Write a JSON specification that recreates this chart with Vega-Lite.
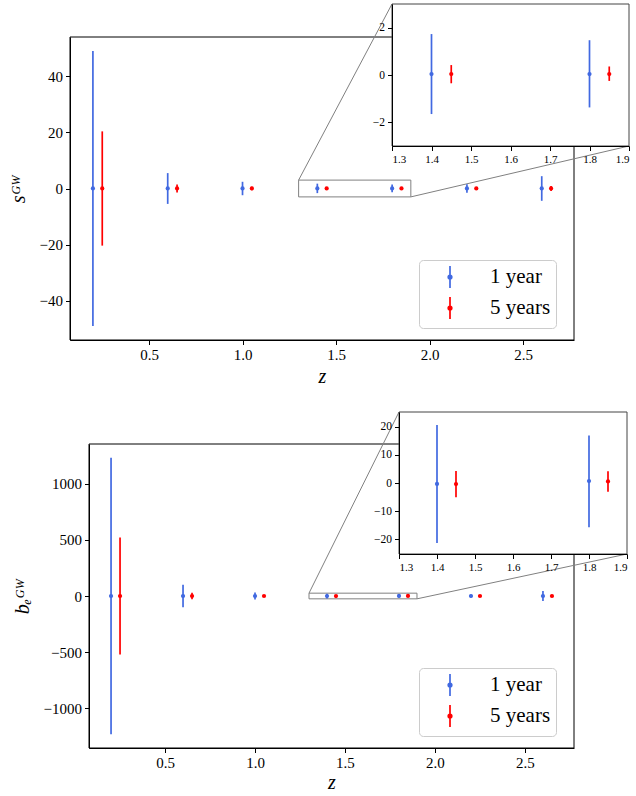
{
  "$schema": "https://vega.github.io/schema/vega-lite/v6.json",
  "width": 636,
  "height": 796,
  "autosize": {"type": "none"},
  "padding": 0,
  "background": "white",
  "datasets": {
    "s": [
      {"series": "1 year", "z": 0.2, "v": 0.04, "lo": -49.1, "hi": 49.1},
      {"series": "1 year", "z": 0.6, "v": 0.04, "lo": -5.5, "hi": 5.5},
      {"series": "1 year", "z": 1.0, "v": 0.04, "lo": -2.4, "hi": 2.4},
      {"series": "1 year", "z": 1.4, "v": 0.04, "lo": -1.65, "hi": 1.73},
      {"series": "1 year", "z": 1.8, "v": 0.04, "lo": -1.37, "hi": 1.47},
      {"series": "1 year", "z": 2.2, "v": 0.04, "lo": -1.55, "hi": 1.55},
      {"series": "1 year", "z": 2.6, "v": 0.04, "lo": -4.4, "hi": 4.4},
      {"series": "5 years", "z": 0.25, "v": 0.04, "lo": -20.4, "hi": 20.4},
      {"series": "5 years", "z": 0.65, "v": 0.04, "lo": -1.4, "hi": 1.4},
      {"series": "5 years", "z": 1.05, "v": 0.04, "lo": -0.6, "hi": 0.6},
      {"series": "5 years", "z": 1.45, "v": 0.04, "lo": -0.35, "hi": 0.42},
      {"series": "5 years", "z": 1.85, "v": 0.04, "lo": -0.25, "hi": 0.36},
      {"series": "5 years", "z": 2.25, "v": 0.04, "lo": -0.5, "hi": 0.5},
      {"series": "5 years", "z": 2.65, "v": 0.04, "lo": -0.9, "hi": 0.9}
    ],
    "b": [
      {"series": "1 year", "z": 0.2, "v": 0, "lo": -1232, "hi": 1232},
      {"series": "1 year", "z": 0.6, "v": 0, "lo": -100, "hi": 100},
      {"series": "1 year", "z": 1.0, "v": 0, "lo": -31, "hi": 31},
      {"series": "1 year", "z": 1.4, "v": -0.35, "lo": -21.4, "hi": 20.7},
      {"series": "1 year", "z": 1.8, "v": 0.7, "lo": -15.8, "hi": 16.9},
      {"series": "1 year", "z": 2.2, "v": 0, "lo": -14, "hi": 14},
      {"series": "1 year", "z": 2.6, "v": 0, "lo": -45, "hi": 45},
      {"series": "5 years", "z": 0.25, "v": 0, "lo": -522, "hi": 522},
      {"series": "5 years", "z": 0.65, "v": 0, "lo": -28, "hi": 28},
      {"series": "5 years", "z": 1.05, "v": 0, "lo": -10, "hi": 10},
      {"series": "5 years", "z": 1.45, "v": -0.4, "lo": -5.1, "hi": 4.3},
      {"series": "5 years", "z": 1.85, "v": 0.55, "lo": -3.1, "hi": 4.2},
      {"series": "5 years", "z": 2.25, "v": 0, "lo": -6, "hi": 6},
      {"series": "5 years", "z": 2.65, "v": 0, "lo": -12, "hi": 12}
    ]
  },
  "config": {
    "font": "Liberation Serif",
    "view": {"stroke": null},
    "style": {"guide-label": {"font": "Liberation Serif"}, "guide-title": {"font": "Liberation Serif"}},
    "axis": {
      "grid": false,
      "domainColor": "black",
      "tickColor": "black",
      "labelColor": "black",
      "labelFont": "Liberation Serif",
      "labelFontSize": 15,
      "tickSize": 4.5,
      "labelPadding": 3,
      "titleFont": "Liberation Serif",
      "titleFontSize": 20,
      "titleFontStyle": "italic",
      "titleFontWeight": "normal",
      "titleColor": "black",
      "domainWidth": 1,
      "tickWidth": 1
    },
    "legend": {
      "labelFont": "Liberation Serif",
      "labelFontSize": 21,
      "labelColor": "black",
      "padding": 5,
      "rowPadding": 1,
      "fillColor": "rgba(255,255,255,0.8)",
      "strokeColor": "#cccccc",
      "cornerRadius": 4,
      "symbolOffset": 14,
      "labelOffset": 28
    }
  },
  "layer": [
    {
      "layer": [
        {
          "data": {"values": [{}]},
          "mark": {"type": "rect", "fill": "transparent", "stroke": "black", "strokeWidth": 1},
          "encoding": {
            "x": {"datum": 0.0775, "type": "quantitative", "scale": {"domain": [0.0775, 2.7725], "range": [70, 574], "nice": false, "zero": false},
              "axis": {"orient": "bottom", "offset": -456, "values": [0.5, 1, 1.5, 2, 2.5], "format": ".1f", "title": "z", "titlePadding": 4}},
            "x2": {"datum": 2.7725},
            "y": {"datum": -54.1, "type": "quantitative", "scale": {"domain": [-54.1, 54.1], "range": [340, 37], "nice": false, "zero": false},
              "axis": {"orient": "left", "offset": -70, "values": [-40, -20, 0, 20, 40], "format": "d", "title": "sᴳᵂ", "titlePadding": 11}},
            "y2": {"datum": 54.1}
          }
        },
        {
          "data": {"values": [{}]},
          "mark": {"type": "rect", "fill": "transparent", "stroke": "#808080", "strokeWidth": 1},
          "encoding": {
            "x": {"datum": 1.3, "type": "quantitative"},
            "x2": {"datum": 1.9},
            "y": {"datum": -3, "type": "quantitative"},
            "y2": {"datum": 3}
          }
        },
        {
          "data": {"values": [{}]},
          "mark": {"type": "rule", "stroke": "#808080", "strokeWidth": 1},
          "encoding": {
            "x": {"datum": 1.3, "type": "quantitative"},
            "x2": {"datum": 1.7993},
            "y": {"datum": 3, "type": "quantitative"},
            "y2": {"datum": 65.88}
          }
        },
        {
          "data": {"values": [{}]},
          "mark": {"type": "rule", "stroke": "#808080", "strokeWidth": 1},
          "encoding": {
            "x": {"datum": 1.9, "type": "quantitative"},
            "x2": {"datum": 3.0666},
            "y": {"datum": -3, "type": "quantitative"},
            "y2": {"datum": 15.18}
          }
        },
        {
          "data": {"name": "s"},
          "mark": {"type": "rule", "strokeWidth": 1.7},
          "encoding": {
            "x": {"field": "z", "type": "quantitative"},
            "y": {"field": "lo", "type": "quantitative"},
            "y2": {"field": "hi"},
            "color": {"field": "series", "type": "nominal", "scale": {"domain": ["1 year", "5 years"], "range": ["#4169e1", "#ff0000"]}}
          }
        },
        {
          "data": {"name": "s"},
          "mark": {"type": "point", "filled": true, "size": 18, "opacity": 1},
          "encoding": {
            "x": {"field": "z", "type": "quantitative"},
            "y": {"field": "v", "type": "quantitative"},
            "color": {"field": "series", "type": "nominal", "scale": {"domain": ["1 year", "5 years"], "range": ["#4169e1", "#ff0000"]},
              "legend": {"orient": "none", "legendX": 419, "legendY": 260, "title": null,
                "symbolType": "M0,-1L0,1M0.16,0A0.16,0.16,0,1,1,-0.16,0A0.16,0.16,0,1,1,0.16,0Z",
                "symbolSize": 484, "symbolStrokeWidth": 1.7,
                "labelExpr": "datum.label + '\u00a0\u00a0'",
                "encode": {"symbols": {"update": {"stroke": {"signal": "datum.value === '1 year' ? '#4169e1' : '#ff0000'"}, "size": {"value": 484}, "strokeWidth": {"value": 1.7}}}}}}
          }
        }
      ]
    },
    {
      "layer": [
        {
          "data": {"values": [{}]},
          "mark": {"type": "rect", "fill": "white", "stroke": "#444444", "strokeWidth": 1},
          "encoding": {
            "x": {"datum": 1.3, "type": "quantitative", "scale": {"domain": [1.3, 1.9], "range": [392, 629], "nice": false, "zero": false},
              "axis": {"orient": "bottom", "offset": -650, "values": [1.3, 1.4, 1.5, 1.6, 1.7, 1.8, 1.9], "format": ".1f", "title": null, "labelFontSize": 11, "zindex": 1}},
            "x2": {"datum": 1.9},
            "y": {"datum": -3, "type": "quantitative", "scale": {"domain": [-3, 3], "range": [146, 4], "nice": false, "zero": false},
              "axis": {"orient": "left", "offset": -392, "values": [-2, 0, 2], "format": "d", "title": null, "labelFontSize": 11.5, "zindex": 1}},
            "y2": {"datum": 3}
          }
        },
        {
          "data": {"name": "s"},
          "transform": [{"filter": "datum.z > 1.3 && datum.z < 1.9"}],
          "mark": {"type": "rule", "strokeWidth": 1.7},
          "encoding": {
            "x": {"field": "z", "type": "quantitative"},
            "y": {"field": "lo", "type": "quantitative"},
            "y2": {"field": "hi"},
            "color": {"field": "series", "type": "nominal", "scale": {"domain": ["1 year", "5 years"], "range": ["#4169e1", "#ff0000"]}, "legend": null}
          }
        },
        {
          "data": {"name": "s"},
          "transform": [{"filter": "datum.z > 1.3 && datum.z < 1.9"}],
          "mark": {"type": "point", "filled": true, "size": 18, "opacity": 1},
          "encoding": {
            "x": {"field": "z", "type": "quantitative"},
            "y": {"field": "v", "type": "quantitative"},
            "color": {"field": "series", "type": "nominal", "scale": {"domain": ["1 year", "5 years"], "range": ["#4169e1", "#ff0000"]}, "legend": null}
          }
        }
      ]
    },
    {
      "layer": [
        {
          "data": {"values": [{}]},
          "mark": {"type": "rect", "fill": "transparent", "stroke": "black", "strokeWidth": 1},
          "encoding": {
            "x": {"datum": 0.0775, "type": "quantitative", "scale": {"domain": [0.0775, 2.7725], "range": [89, 574], "nice": false, "zero": false},
              "axis": {"orient": "bottom", "offset": -48, "values": [0.5, 1, 1.5, 2, 2.5], "format": ".1f", "title": "z", "titlePadding": 2}},
            "x2": {"datum": 2.7725},
            "y": {"datum": -1355, "type": "quantitative", "scale": {"domain": [-1355, 1355], "range": [748, 444], "nice": false, "zero": false},
              "axis": {"orient": "left", "offset": -89, "values": [-1000, -500, 0, 500, 1000], "format": "d", "title": "bₑᴳᵂ", "titlePadding": 11}},
            "y2": {"datum": 1355}
          }
        },
        {
          "data": {"values": [{}]},
          "mark": {"type": "rect", "fill": "transparent", "stroke": "#808080", "strokeWidth": 1},
          "encoding": {
            "x": {"datum": 1.3, "type": "quantitative"},
            "x2": {"datum": 1.9},
            "y": {"datum": -25.3, "type": "quantitative"},
            "y2": {"datum": 25.3}
          }
        },
        {
          "data": {"values": [{}]},
          "mark": {"type": "rule", "stroke": "#808080", "strokeWidth": 1},
          "encoding": {
            "x": {"datum": 1.3, "type": "quantitative"},
            "x2": {"datum": 1.8001},
            "y": {"datum": 25.3, "type": "quantitative"},
            "y2": {"datum": 1640.2}
          }
        },
        {
          "data": {"values": [{}]},
          "mark": {"type": "rule", "stroke": "#808080", "strokeWidth": 1},
          "encoding": {
            "x": {"datum": 1.9, "type": "quantitative"},
            "x2": {"datum": 3.067},
            "y": {"datum": -25.3, "type": "quantitative"},
            "y2": {"datum": 374.4}
          }
        },
        {
          "data": {"name": "b"},
          "mark": {"type": "rule", "strokeWidth": 1.7},
          "encoding": {
            "x": {"field": "z", "type": "quantitative"},
            "y": {"field": "lo", "type": "quantitative"},
            "y2": {"field": "hi"},
            "color": {"field": "series", "type": "nominal", "scale": {"domain": ["1 year", "5 years"], "range": ["#4169e1", "#ff0000"]}}
          }
        },
        {
          "data": {"name": "b"},
          "mark": {"type": "point", "filled": true, "size": 18, "opacity": 1},
          "encoding": {
            "x": {"field": "z", "type": "quantitative"},
            "y": {"field": "v", "type": "quantitative"},
            "color": {"field": "series", "type": "nominal", "scale": {"domain": ["1 year", "5 years"], "range": ["#4169e1", "#ff0000"]},
              "legend": {"orient": "none", "legendX": 419, "legendY": 668, "title": null,
                "symbolType": "M0,-1L0,1M0.16,0A0.16,0.16,0,1,1,-0.16,0A0.16,0.16,0,1,1,0.16,0Z",
                "symbolSize": 484, "symbolStrokeWidth": 1.7,
                "labelExpr": "datum.label + '\u00a0\u00a0'",
                "encode": {"symbols": {"update": {"stroke": {"signal": "datum.value === '1 year' ? '#4169e1' : '#ff0000'"}, "size": {"value": 484}, "strokeWidth": {"value": 1.7}}}}}}
          }
        }
      ]
    },
    {
      "layer": [
        {
          "data": {"values": [{}]},
          "mark": {"type": "rect", "fill": "white", "stroke": "#444444", "strokeWidth": 1},
          "encoding": {
            "x": {"datum": 1.3, "type": "quantitative", "scale": {"domain": [1.3, 1.9], "range": [399, 627], "nice": false, "zero": false},
              "axis": {"orient": "bottom", "offset": -242, "values": [1.3, 1.4, 1.5, 1.6, 1.7, 1.8, 1.9], "format": ".1f", "title": null, "labelFontSize": 11, "zindex": 1}},
            "x2": {"datum": 1.9},
            "y": {"datum": -25.3, "type": "quantitative", "scale": {"domain": [-25.3, 25.3], "range": [554, 412], "nice": false, "zero": false},
              "axis": {"orient": "left", "offset": -399, "values": [-20, -10, 0, 10, 20], "format": "d", "title": null, "labelFontSize": 11.5, "zindex": 1}},
            "y2": {"datum": 25.3}
          }
        },
        {
          "data": {"name": "b"},
          "transform": [{"filter": "datum.z > 1.3 && datum.z < 1.9"}],
          "mark": {"type": "rule", "strokeWidth": 1.7},
          "encoding": {
            "x": {"field": "z", "type": "quantitative"},
            "y": {"field": "lo", "type": "quantitative"},
            "y2": {"field": "hi"},
            "color": {"field": "series", "type": "nominal", "scale": {"domain": ["1 year", "5 years"], "range": ["#4169e1", "#ff0000"]}, "legend": null}
          }
        },
        {
          "data": {"name": "b"},
          "transform": [{"filter": "datum.z > 1.3 && datum.z < 1.9"}],
          "mark": {"type": "point", "filled": true, "size": 18, "opacity": 1},
          "encoding": {
            "x": {"field": "z", "type": "quantitative"},
            "y": {"field": "v", "type": "quantitative"},
            "color": {"field": "series", "type": "nominal", "scale": {"domain": ["1 year", "5 years"], "range": ["#4169e1", "#ff0000"]}, "legend": null}
          }
        }
      ]
    }
  ],
  "resolve": {
    "scale": {"x": "independent", "y": "independent", "color": "independent"},
    "axis": {"x": "independent", "y": "independent"},
    "legend": {"color": "independent"}
  }
}
